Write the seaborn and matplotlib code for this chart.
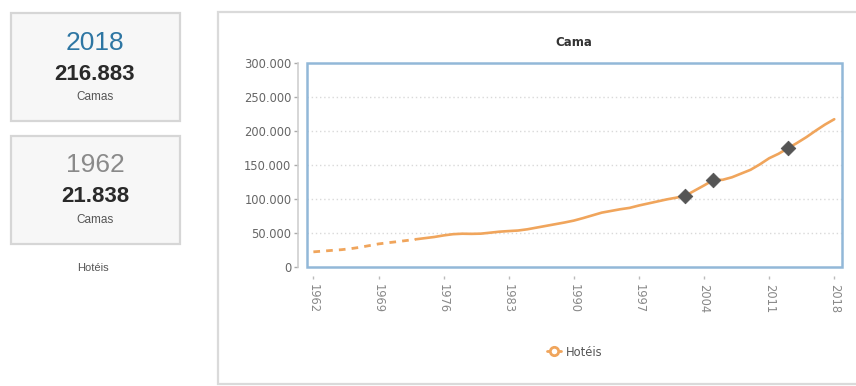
import matplotlib
matplotlib.use("Agg")
import matplotlib.pyplot as plt
from matplotlib.patches import Rectangle
from matplotlib.lines import Line2D
from matplotlib.ticker import FuncFormatter, FixedLocator
import pandas as pd
import seaborn as sns

# Hotel beds per year
years = list(range(1962, 2019))
beds = [
    21838, 22900, 24000, 25000, 26500, 28500, 31000, 33500, 35200, 36800,
    38500, 40300, 42000, 43700, 46000, 47800, 48500, 48300, 48600, 50000,
    51500, 52400, 53200, 55000, 57500, 60000, 62500, 65000, 67800, 71500,
    75500, 79500, 82000, 84500, 86500, 90000, 93000, 96000, 99000, 101500,
    104400, 112000, 119500, 127500, 127800, 131500, 137000, 142500, 150500, 159500,
    166000, 174000, 182000, 190500, 200000, 209000, 216883,
]
# Years drawn with a dashed stroke (sparse early records)
dashed_until = 1973
# Highlighted years
marked_years = [2002, 2005, 2013]

series_name = "Hotéis"
title = "Cama"
unit = "Camas"
tick_years = list(range(1962, 2019, 7))
y_ticks = [0, 50000, 100000, 150000, 200000, 250000, 300000]

df = pd.DataFrame({"ano": years, "camas": beds})
marks = df[df["ano"].isin(marked_years)]

def fmt(v):
    return f"{int(v):,}".replace(",", ".")

sns.set_theme(style="white")
plt.rcParams["font.family"] = ["DejaVu Sans"]

W, H = 856, 386
fig = plt.figure(figsize=(W / 100, H / 100), dpi=100)
fig.patch.set_facecolor("white")

# Background layer in pixel coordinates (cards and chart container)
bg = fig.add_axes([0, 0, 1, 1])
bg.set_xlim(0, W)
bg.set_ylim(H, 0)
bg.axis("off")
bg.set_zorder(0)

card_font = ["Liberation Sans", "DejaVu Sans"]
for (y0, yr, col, val) in [(13, years[-1], "#2e76a3", beds[-1]),
                           (136, years[0], "#8a8a8a", beds[0])]:
    bg.add_patch(Rectangle((11, y0), 169, 108, facecolor="#f7f7f7",
                           edgecolor="#d6d6d6", lw=1.6))
    bg.text(95, y0 + 29.5, str(yr), ha="center", va="center", fontsize=19,
            color=col, family=card_font)
    bg.text(95, y0 + 61, fmt(val), ha="center", va="center", fontsize=16,
            color="#2a2a2a", family=card_font, fontweight="bold")
    bg.text(95, y0 + 84, unit, ha="center", va="center", fontsize=8.5,
            color="#555555", family=card_font)
bg.text(93, 268, series_name, ha="center", va="center", fontsize=8,
        color="#555555", family=card_font)

bg.add_patch(Rectangle((218.5, 12), 650, 372, facecolor="white",
                       edgecolor="#dadada", lw=1.6))
bg.text(574, 42, title, ha="center", va="center", fontsize=8.5,
        fontweight="bold", color="#333333")

# Main plot
ax = fig.add_axes([306.7 / W, 1 - 266.7 / H, 535 / W, (266.7 - 62.7) / H])
ax.set_zorder(1)
ax.patch.set_alpha(0)

line_color = "#f0a55c"
sns.lineplot(data=df[df["ano"] <= dashed_until], x="ano", y="camas", ax=ax,
             color=line_color, lw=2.0, linestyle=(0, (2.4, 2.2)))
sns.lineplot(data=df[df["ano"] >= dashed_until], x="ano", y="camas", ax=ax,
             color=line_color, lw=1.9)
sns.scatterplot(data=marks, x="ano", y="camas", ax=ax, marker="D", s=55,
                color="#555555", edgecolor="#555555", zorder=5)

ax.set_xlim(1962 - 0.72, 2018 + 0.8)
ax.set_ylim(0, 300000)
ax.set_xlabel("")
ax.set_ylabel("")

ax.yaxis.set_major_locator(FixedLocator(y_ticks))
ax.yaxis.set_major_formatter(FuncFormatter(lambda v, p: fmt(v)))
ax.xaxis.set_major_locator(FixedLocator(tick_years))
ax.xaxis.set_major_formatter(FuncFormatter(lambda v, p: f"{int(round(v))}"))

for v in y_ticks[1:-1]:
    ax.axhline(v, color="#d9d9d9", lw=1.0, ls=(0, (1, 2)), zorder=0)

for s in ["top", "right", "bottom"]:
    ax.spines[s].set_visible(False)
ax.spines["left"].set_position(("outward", 6))
ax.spines["left"].set_color("#cfcfcf")
ax.spines["left"].set_linewidth(1.2)
ax.spines["bottom"].set_position(("outward", 7))

ax.add_patch(Rectangle((0, 0), 1, 1, transform=ax.transAxes, fill=False,
                       edgecolor="#92b8d8", lw=1.8, zorder=6, clip_on=False))

ax.tick_params(axis="y", left=True, length=3, width=1, color="#aaaaaa",
               labelsize=8.3, labelcolor="#666666", pad=2)
ax.tick_params(axis="x", bottom=True, length=2.5, width=1, color="#bbbbbb",
               labelsize=8.3, labelcolor="#888888", pad=3,
               labelrotation=270)

legend_handle = Line2D([0], [0], color=line_color, lw=2, marker="o",
                       markersize=6, markerfacecolor="white",
                       markeredgecolor=line_color, markeredgewidth=2)
fig.legend([legend_handle], [series_name], loc="center",
           bbox_to_anchor=(575 / W, 1 - 352 / H), frameon=False,
           fontsize=8.3, labelcolor="#555555", handlelength=1.2,
           handletextpad=0.4)

fig.savefig("out.png", dpi=100, facecolor="white")
